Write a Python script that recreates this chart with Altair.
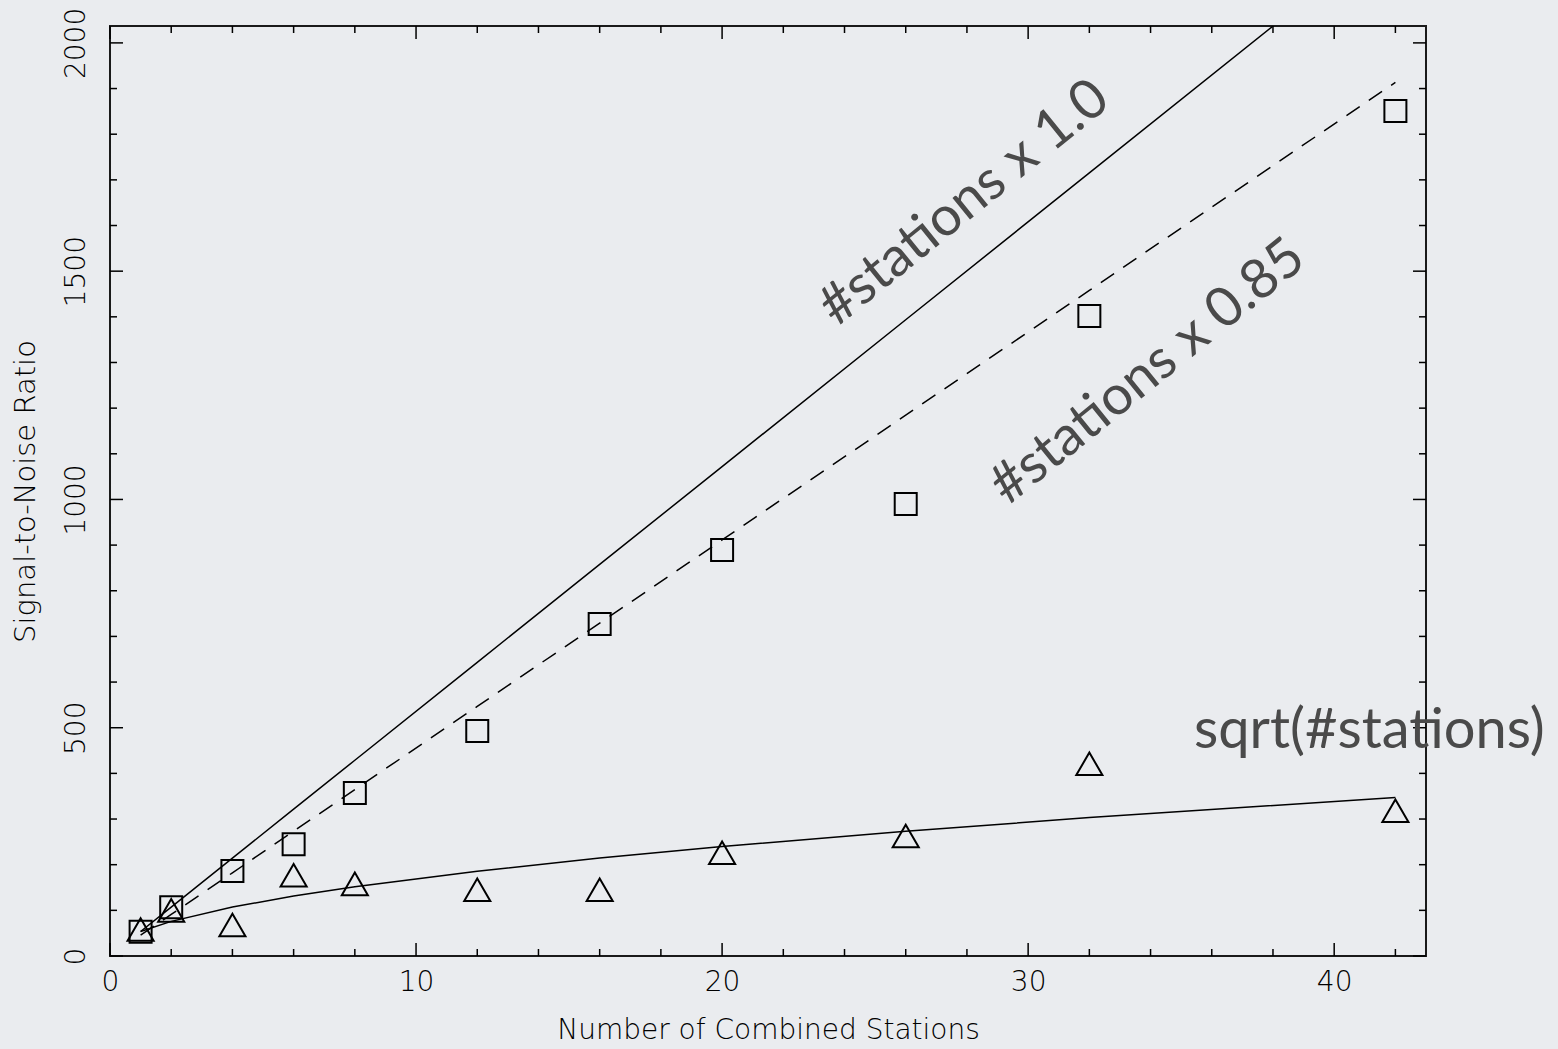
import altair as alt
import pandas as pd

# ---- data ----
stations = [1, 2, 4, 6, 8, 12, 16, 20, 26, 32, 42]
snr_coherent = [53, 107, 186, 245, 357, 493, 727, 889, 990, 1402, 1851]
snr_incoherent = [58, 100, 68, 177, 158, 145, 145, 226, 263, 421, 318]

line_linear = [53.6, 107.2, 214.4, 321.6, 428.8, 643.2, 857.6, 1072.0, 1393.6, 1715.2, 2251.2]
line_085 = [45.6, 91.1, 182.2, 273.4, 364.5, 546.7, 729.0, 911.2, 1184.6, 1457.9, 1913.5]
line_sqrt = [53.6, 75.8, 107.2, 131.3, 151.6, 185.7, 214.4, 239.7, 273.3, 303.2, 347.4]

x_major = [0, 10, 20, 30, 40]
x_minor = [2, 4, 6, 8, 12, 14, 16, 18, 22, 24, 26, 28, 32, 34, 36, 38, 42]
y_major = [0, 500, 1000, 1500, 2000]
y_minor = [100, 200, 300, 400, 600, 700, 800, 900, 1100, 1200, 1300, 1400,
           1600, 1700, 1800, 1900]

ann_text = ["#stations x 1.0", "#stations x 0.85"]
ann_x = [27.9, 33.9]
ann_y = [1650, 1280]

sqrt_text = ["sqrt(#stations)"]
sqrt_x = [41.15]
sqrt_y = [456]

W, H = 1316, 930
XDOM = [0, 43]
YDOM = [0, 2037]

pts = pd.DataFrame({
    "x": stations * 2,
    "y": snr_coherent + snr_incoherent,
    "s": ["coh"] * len(stations) + ["inc"] * len(stations),
})
lines = pd.DataFrame({"x": stations, "lin": line_linear, "l85": line_085, "sq": line_sqrt})

xs = alt.Scale(domain=XDOM, nice=False, zero=False)
ys = alt.Scale(domain=YDOM, nice=False, zero=False)

AF = "DejaVu Sans"
x_axis = alt.Axis(values=x_major, format="d", ticks=False, domain=False, grid=False,
                  labelFont=AF, labelFontSize=28, labelFontWeight=200, labelColor="#000",
                  labelPadding=12, labelFlush=False, labelOverlap=False,
                  title="Number of Combined Stations",
                  titleFont=AF, titleFontSize=28, titleFontWeight=200,
                  titleColor="#000", titlePadding=20)
y_axis = alt.Axis(values=y_major, format="d", ticks=False, domain=False, grid=False,
                  labelFont=AF, labelFontSize=28, labelFontWeight=200, labelColor="#000",
                  labelAngle=270, labelPadding=20, labelAlign="center", labelBaseline="bottom",
                  labelFlush=False, labelOverlap=False,
                  title="Signal-to-Noise Ratio",
                  titleFont=AF, titleFontSize=29, titleFontWeight=200,
                  titleColor="#000", titlePadding=22)

X = lambda f: alt.X(f, scale=xs, axis=x_axis)
Y = lambda f: alt.Y(f, scale=ys, axis=y_axis)

points = alt.Chart(pts).mark_point(filled=False, strokeWidth=2, color="black", opacity=1).encode(
    x=X("x:Q"),
    y=Y("y:Q"),
    shape=alt.Shape("s:N", scale=alt.Scale(domain=["coh", "inc"], range=["square", "triangle-up"]), legend=None),
    size=alt.Size("s:N", scale=alt.Scale(domain=["coh", "inc"], range=[484, 680]), legend=None),
)

base_l = alt.Chart(lines)
l_lin = base_l.mark_line(color="black", strokeWidth=1.5, clip=True).encode(x=X("x:Q"), y=Y("lin:Q"))
l_85 = base_l.mark_line(color="black", strokeWidth=1.5, strokeDash=[16, 11], clip=True).encode(
    x=X("x:Q"), y=Y("l85:Q"))
l_sq = base_l.mark_line(color="black", strokeWidth=1.5, clip=True).encode(x=X("x:Q"), y=Y("sq:Q"))

def xticks(vals, length):
    d = pd.DataFrame({"v": vals})
    bot = alt.Chart(d).mark_rule(color="black", strokeWidth=1.5).encode(
        x=X("v:Q"), y=alt.value(H), y2=alt.value(H - length))
    top = alt.Chart(d).mark_rule(color="black", strokeWidth=1.5).encode(
        x=X("v:Q"), y=alt.value(0), y2=alt.value(length))
    return [bot, top]

def yticks(vals, length):
    d = pd.DataFrame({"v": vals})
    left = alt.Chart(d).mark_rule(color="black", strokeWidth=1.5).encode(
        y=Y("v:Q"), x=alt.value(0), x2=alt.value(length))
    right = alt.Chart(d).mark_rule(color="black", strokeWidth=1.5).encode(
        y=Y("v:Q"), x=alt.value(W), x2=alt.value(W - length))
    return [left, right]

ticks = xticks(x_major, 13) + xticks(x_minor, 7) + yticks(y_major, 13) + yticks(y_minor, 7)

ann = alt.Chart(pd.DataFrame({"t": ann_text, "x": ann_x, "y": ann_y})).mark_text(
    font="Lato", fontSize=55, color="#4a4a4a", angle=321, align="center", baseline="middle"
).encode(x=X("x:Q"), y=Y("y:Q"), text="t:N")

ann2 = alt.Chart(pd.DataFrame({"t": sqrt_text, "x": sqrt_x, "y": sqrt_y})).mark_text(
    font="Lato", fontSize=56, color="#4a4a4a", align="center", baseline="alphabetic"
).encode(x=X("x:Q"), y=Y("y:Q"), text="t:N")

chart = alt.layer(points, l_lin, l_85, l_sq, *ticks, ann, ann2).properties(
    width=W, height=H,
    autosize=alt.AutoSizeParams(type="none"),
    padding={"left": 110, "top": 26, "right": 132, "bottom": 93},
    background="#eaecef",
).configure_view(stroke="#1a1a1a", strokeWidth=2)

chart.save("out.html", embed_options={"renderer": "svg", "actions": False})
